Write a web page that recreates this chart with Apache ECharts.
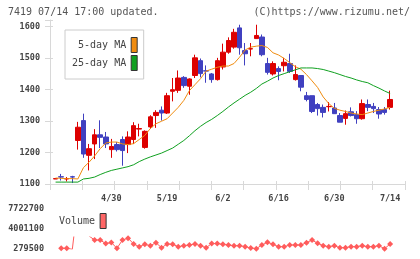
<!DOCTYPE html>
<html>
<head>
<meta charset="utf-8">
<script src="https://cdn.jsdelivr.net/npm/echarts@6/dist/echarts.min.js"></script>
<style>
  html, body { margin: 0; padding: 0; background: #fff; }
  #chart { width: 420px; height: 259px; }
</style>
</head>
<body>
<div id="chart"></div>
<script>
// trading days shown on the chart (2021)
var dates = ['4/15','4/16','4/19','4/20','4/21','4/22','4/23','4/26','4/27','4/28',
  '4/30','5/6','5/7','5/10','5/11','5/12','5/13','5/14','5/17','5/18',
  '5/19','5/20','5/21','5/24','5/25','5/26','5/27','5/28','5/31','6/1',
  '6/2','6/3','6/4','6/7','6/8','6/9','6/10','6/11','6/14','6/15',
  '6/16','6/17','6/18','6/21','6/22','6/23','6/24','6/25','6/28','6/29',
  '6/30','7/1','7/2','7/5','7/6','7/7','7/8','7/9','7/12','7/13','7/14'];
var tickDates = ['4/30', '5/19', '6/2', '6/16', '6/30', '7/14'];

var open = [1116,1123,1116,1123,1238,1301,1191,1227,1256,1249,
  1209,1225,1241,1225,1241,1274,1216,1281,1317,1334,
  1325,1394,1397,1438,1410,1444,1491,1459,1449,1431,
  1471,1518,1534,1595,1523,1528,1561,1566,1482,1449,
  1466,1475,1482,1431,1444,1380,1380,1352,1343,1345,
  1341,1317,1308,1329,1320,1307,1352,1346,1336,1336,1343];
var close = [1117,1122,1117,1122,1280,1195,1212,1256,1248,1227,
  1219,1209,1206,1249,1285,1276,1267,1313,1327,1325,
  1380,1399,1436,1412,1433,1500,1450,1458,1431,1491,
  1518,1555,1581,1532,1513,1529,1571,1510,1454,1482,
  1457,1486,1457,1447,1407,1368,1330,1339,1327,1346,
  1323,1296,1323,1317,1307,1355,1343,1339,1322,1327,1368];
var low = [1116,1111,1108,1103,1209,1183,1143,1179,1214,1214,
  1183,1203,1158,1198,1227,1251,1212,1275,1278,1301,
  1322,1362,1389,1405,1383,1436,1438,1421,1421,1428,
  1463,1513,1529,1510,1476,1505,1561,1505,1447,1444,
  1429,1457,1452,1428,1394,1362,1325,1317,1311,1330,
  1323,1296,1288,1314,1291,1304,1331,1325,1307,1320,1336];
var high = [1117,1132,1122,1126,1297,1323,1227,1274,1302,1265,
  1243,1233,1251,1267,1296,1291,1270,1318,1334,1346,
  1389,1436,1460,1442,1435,1510,1498,1476,1452,1500,
  1545,1565,1592,1605,1547,1547,1605,1574,1500,1489,
  1473,1500,1513,1476,1444,1392,1380,1357,1352,1360,
  1357,1325,1333,1343,1331,1368,1368,1357,1344,1344,1396];

var ma5 = [1119,1118,1117,1117,1116,1152,1169,1189,1212,1230,
  1233,1233,1227,1225,1228,1241,1254,1276,1291,1299,
  1307,1325,1343,1365,1396,1415,1434,1458,1464,1470,
  1474,1474,1482,1502,1525,1534,1537,1539,1533,1516,
  1509,1498,1485,1472,1464,1447,1427,1406,1376,1355,
  1340,1334,1330,1325,1322,1320,1325,1330,1334,1338,1343];
var ma25 = [1106,1106,1106,1106,1106,1116,1118,1122,1130,1137,
  1143,1147,1151,1155,1161,1171,1179,1186,1192,1198,
  1206,1214,1226,1238,1253,1269,1283,1295,1305,1317,
  1330,1344,1357,1369,1381,1391,1403,1417,1426,1436,
  1444,1450,1456,1462,1468,1468,1468,1466,1463,1458,
  1453,1447,1441,1436,1430,1425,1421,1412,1404,1395,1387];

var volume = [null,410000,410000,224000,9000000,6000000,2700000,1950000,1950000,1280000,
  1500000,410000,1950000,2300000,1210000,710000,1150000,890000,1450000,520000,
  1210000,1150000,710000,890000,1020000,1210000,890000,520000,1280000,1280000,
  1150000,1020000,890000,890000,710000,470000,340000,1020000,1530000,1150000,
  710000,710000,1020000,1020000,1020000,1450000,1950000,1340000,890000,710000,
  890000,520000,520000,710000,710000,890000,710000,710000,890000,340000,1210000];
var volTicks = [279500, 4001100, 7722700];

var priceMin = 1100, priceMax = 1620;
var up = '#dd0000', down = '#4040c0';
var mono = 'DejaVu Sans Mono';
var axisGray = '#d8d8d8';

var chart = echarts.init(document.getElementById('chart'), null, { renderer: 'canvas' });

var candleData = open.map(function (o, i) { return [o, close[i], low[i], high[i]]; });

// volume panel draws only its lower strip, the rest is clipped away
var volClipTop = 237, volBase = 249, volLabelTop = 209;
var volMaxShown = volTicks[0] + (volTicks[2] - volTicks[0]) * (volBase - volClipTop) / (volBase - volLabelTop);

chart.setOption({
  animation: false,
  backgroundColor: '#fff',
  title: [
    { text: '7419 07/14 17:00 updated.', left: 8, top: 7, padding: 0,
      textStyle: { fontFamily: mono, fontSize: 10, fontWeight: 'normal', color: '#555' } },
    { text: '(C)https://www.rizumu.net/', right: 10, top: 7, padding: 0,
      textStyle: { fontFamily: mono, fontSize: 10, fontWeight: 'normal', color: '#555' } }
  ],
  legend: [
    {
      data: [
        { name: '5-day MA', itemStyle: { color: '#f08c10' } },
        { name: '25-day MA', itemStyle: { color: '#10a020' } }
      ],
      orient: 'vertical', left: 65, top: 30,
      padding: [7, 6, 8, 7], itemGap: 2,
      itemWidth: 6, itemHeight: 15, icon: 'rect', align: 'right',
      backgroundColor: '#fff', borderColor: '#ccc', borderWidth: 1,
      itemStyle: { borderColor: '#333', borderWidth: 1 },
      formatter: function (name) { return name.padStart(9); },
      textStyle: { fontFamily: mono, fontSize: 10, color: '#444' },
      selectedMode: false
    },
    {
      data: [{ name: 'Volume', itemStyle: { color: '#ff6666' } }],
      left: 59, top: 213, padding: 0,
      itemWidth: 6, itemHeight: 15, icon: 'rect', align: 'right',
      itemStyle: { borderColor: '#333', borderWidth: 1 },
      textStyle: { fontFamily: mono, fontSize: 10, color: '#444' },
      selectedMode: false
    }
  ],
  grid: [
    // candles and moving averages
    { left: 52.8, right: 27.1, top: 20, bottom: 75, outerBoundsMode: 'none' },
    // price frame (axis lines, ticks, labels)
    { left: 50, right: 15, top: 20, bottom: 75, outerBoundsMode: 'none' },
    // volume labels
    { left: 50, right: 15, top: volLabelTop, bottom: 259 - volBase, outerBoundsMode: 'none' },
    // volume line
    { left: 52.8, right: 27.1, top: volClipTop, bottom: 259 - volBase, outerBoundsMode: 'none' }
  ],
  xAxis: [
    {
      type: 'category', gridIndex: 0, data: dates, boundaryGap: true, position: 'bottom',
      axisLine: { show: false }, axisTick: { show: false }, splitLine: { show: false },
      axisLabel: {
        interval: function (idx, val) { return tickDates.indexOf(val) >= 0; },
        margin: 10, fontFamily: mono, fontSize: 8.5, fontWeight: 'bold', color: '#444'
      }
    },
    {
      type: 'value', gridIndex: 1, min: 0, max: 11, interval: 1, position: 'bottom',
      axisLine: { show: true, lineStyle: { color: axisGray } },
      axisTick: { show: true, length: 6, lineStyle: { color: axisGray } },
      axisLabel: { show: false }, splitLine: { show: false }
    },
    {
      type: 'value', gridIndex: 1, min: 0, max: 11, interval: 1, position: 'bottom',
      axisLine: { show: false },
      axisTick: { show: true, inside: true, length: 3, lineStyle: { color: axisGray } },
      axisLabel: { show: false }, splitLine: { show: false }
    },
    { type: 'value', gridIndex: 2, min: 0, max: 1, show: false },
    { type: 'category', gridIndex: 3, data: dates, boundaryGap: true, show: false }
  ],
  yAxis: [
    { type: 'value', gridIndex: 0, min: priceMin, max: priceMax, show: false },
    {
      type: 'value', gridIndex: 1, min: priceMin, max: priceMax, interval: 100, position: 'left',
      axisLine: { show: true, lineStyle: { color: axisGray } },
      axisTick: { show: true, length: 5, lineStyle: { color: axisGray } },
      splitLine: { show: false },
      axisLabel: {
        margin: 10, fontFamily: mono, fontSize: 8.5, fontWeight: 'bold', color: '#444',
        formatter: function (v) { return v % 100 === 0 ? String(v) : ''; }
      }
    },
    {
      type: 'value', gridIndex: 1, min: priceMin, max: priceMax, interval: 100, position: 'left',
      axisLine: { show: false },
      axisTick: { show: true, inside: true, length: 3, lineStyle: { color: axisGray } },
      axisLabel: { show: false }, splitLine: { show: false }
    },
    {
      type: 'value', gridIndex: 2, min: volTicks[0], max: volTicks[2],
      interval: volTicks[1] - volTicks[0], position: 'left',
      axisLine: { show: false }, axisTick: { show: false }, splitLine: { show: false },
      axisLabel: {
        margin: 6, fontFamily: mono, fontSize: 8.5, fontWeight: 'bold', color: '#444',
        formatter: function (v) { return volTicks.indexOf(v) >= 0 ? String(v) : ''; }
      }
    },
    { type: 'value', gridIndex: 3, min: volTicks[0], max: volMaxShown, show: false }
  ],
  series: [
    {
      name: 'price', type: 'candlestick', xAxisIndex: 0, yAxisIndex: 0,
      data: candleData, barWidth: 5,
      itemStyle: { color: up, color0: down, borderColor: up, borderColor0: down, borderWidth: 1 }
    },
    {
      name: '5-day MA', type: 'line', xAxisIndex: 0, yAxisIndex: 0, data: ma5,
      symbol: 'none', lineStyle: { color: '#f08c10', width: 1 }, itemStyle: { color: '#f08c10' }
    },
    {
      name: '25-day MA', type: 'line', xAxisIndex: 0, yAxisIndex: 0, data: ma25,
      symbol: 'none', lineStyle: { color: '#10a020', width: 1 }, itemStyle: { color: '#10a020' }
    },
    {
      name: 'Volume', type: 'line', xAxisIndex: 4, yAxisIndex: 4, data: volume,
      symbol: 'diamond', symbolSize: 6, showAllSymbol: true, clip: true,
      lineStyle: { color: '#ff5c5c', width: 1 }, itemStyle: { color: '#ff5c5c' }
    }
  ]
});
</script>
</body>
</html>
